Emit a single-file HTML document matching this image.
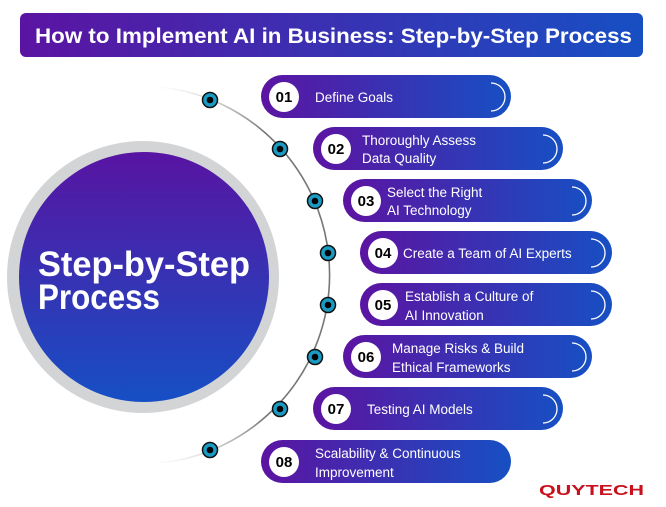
<!DOCTYPE html>
<html><head><meta charset="utf-8"><style>body{margin:0;background:#fff}svg{display:block}</style></head>
<body>
<svg width="666" height="507" viewBox="0 0 666 507" xmlns="http://www.w3.org/2000/svg" style="font-family:'Liberation Sans',sans-serif">
<defs>
<linearGradient id="h" x1="0" x2="1" y1="0" y2="0"><stop offset="0" stop-color="#5b14a2"/><stop offset="1" stop-color="#174fc3"/></linearGradient>
<linearGradient id="v" x1="0" x2="0" y1="0" y2="1"><stop offset="0" stop-color="#5814a2"/><stop offset="1" stop-color="#164fc4"/></linearGradient>
<linearGradient id="arc" x1="139" y1="86" x2="139" y2="464" gradientUnits="userSpaceOnUse"><stop offset="0" stop-color="#777" stop-opacity="0"/><stop offset="0.12" stop-color="#777"/><stop offset="0.88" stop-color="#777"/><stop offset="1" stop-color="#777" stop-opacity="0"/></linearGradient>
</defs>
<rect x="20" y="13" width="623" height="44" rx="6" fill="url(#h)"/>
<text x="35" y="43" font-size="21" font-weight="bold" fill="#fff" textLength="597" lengthAdjust="spacingAndGlyphs">How to Implement AI in Business: Step-by-Step Process</text>

<circle cx="143" cy="277" r="136" fill="#d3d4d6"/>
<circle cx="144" cy="277" r="125" fill="url(#v)"/>
<text x="38" y="276" font-size="35" font-weight="bold" fill="#fff" textLength="212" lengthAdjust="spacingAndGlyphs">Step-by-Step</text>
<text x="38" y="309" font-size="35" font-weight="bold" fill="#fff" textLength="122" lengthAdjust="spacingAndGlyphs">Process</text>

<path d="M 160 87 A 189 189 0 0 1 160 463" fill="none" stroke="url(#arc)" stroke-width="1.6"/>

<g fill="#fff" font-size="13.5">
<g>
<rect x="261" y="75" width="250" height="43" rx="21.5" fill="url(#h)"/><circle cx="284" cy="97" r="15"/><path d="M491 83 a14 14 0 0 1 0 28" fill="none" stroke="#fff" stroke-width="1.3"/>
<text x="284" y="102" text-anchor="middle" fill="#000" font-weight="bold" font-size="15">01</text><text x="315" y="102">Define Goals</text></g>
<g>
<rect x="313" y="127" width="250" height="43" rx="21.5" fill="url(#h)"/><circle cx="336" cy="149" r="15"/><path d="M543 135 a14 14 0 0 1 0 28" fill="none" stroke="#fff" stroke-width="1.3"/>
<text x="336" y="154" text-anchor="middle" fill="#000" font-weight="bold" font-size="15">02</text><text x="362" y="145">Thoroughly Assess</text><text x="362" y="163">Data Quality</text></g>
<g>
<rect x="343" y="179" width="249" height="43" rx="21.5" fill="url(#h)"/><circle cx="366" cy="201" r="15"/><path d="M572 187 a14 14 0 0 1 0 28" fill="none" stroke="#fff" stroke-width="1.3"/>
<text x="366" y="206" text-anchor="middle" fill="#000" font-weight="bold" font-size="15">03</text><text x="387" y="197">Select the Right</text><text x="387" y="215">AI Technology</text></g>
<g>
<rect x="360" y="231" width="252" height="43" rx="21.5" fill="url(#h)"/><circle cx="383" cy="253" r="15"/><path d="M591 239 a14 14 0 0 1 0 28" fill="none" stroke="#fff" stroke-width="1.3"/>
<text x="383" y="258" text-anchor="middle" fill="#000" font-weight="bold" font-size="15">04</text><text x="403" y="258">Create a Team of AI Experts</text></g>
<g>
<rect x="360" y="283" width="252" height="43" rx="21.5" fill="url(#h)"/><circle cx="383" cy="305" r="15"/><path d="M591 291 a14 14 0 0 1 0 28" fill="none" stroke="#fff" stroke-width="1.3"/>
<text x="383" y="310" text-anchor="middle" fill="#000" font-weight="bold" font-size="15">05</text><text x="405" y="301">Establish a Culture of</text><text x="405" y="320">AI Innovation</text></g>
<g>
<rect x="343" y="335" width="249" height="43" rx="21.5" fill="url(#h)"/><circle cx="366" cy="357" r="15"/><path d="M572 343 a14 14 0 0 1 0 28" fill="none" stroke="#fff" stroke-width="1.3"/>
<text x="366" y="362" text-anchor="middle" fill="#000" font-weight="bold" font-size="15">06</text><text x="392" y="353">Manage Risks &amp; Build</text><text x="392" y="372">Ethical Frameworks</text></g>
<g>
<rect x="313" y="387" width="250" height="43" rx="21.5" fill="url(#h)"/><circle cx="336" cy="409" r="15"/><path d="M543 395 a14 14 0 0 1 0 28" fill="none" stroke="#fff" stroke-width="1.3"/>
<text x="336" y="414" text-anchor="middle" fill="#000" font-weight="bold" font-size="15">07</text><text x="367" y="414">Testing AI Models</text></g>
<g>
<rect x="261" y="440" width="250" height="43" rx="21.5" fill="url(#h)"/><circle cx="284" cy="462" r="15"/>
<text x="284" y="467" text-anchor="middle" fill="#000" font-weight="bold" font-size="15">08</text><text x="315" y="458">Scalability &amp; Continuous</text><text x="315" y="477">Improvement</text></g>
</g>

<g fill="#1a9bc4" stroke="#111" stroke-width="1.5">
<circle cx="210" cy="100" r="7.5"/><circle cx="280" cy="149" r="7.5"/><circle cx="315" cy="201" r="7.5"/><circle cx="328" cy="253" r="7.5"/>
<circle cx="328" cy="305" r="7.5"/><circle cx="315" cy="357" r="7.5"/><circle cx="280" cy="409" r="7.5"/><circle cx="210" cy="450" r="7.5"/>
</g>
<g fill="#000">
<circle cx="210" cy="100" r="3.3"/><circle cx="280" cy="149" r="3.3"/><circle cx="315" cy="201" r="3.3"/><circle cx="328" cy="253" r="3.3"/>
<circle cx="328" cy="305" r="3.3"/><circle cx="315" cy="357" r="3.3"/><circle cx="280" cy="409" r="3.3"/><circle cx="210" cy="450" r="3.3"/>
</g>

<text x="539" y="495" font-size="15" font-weight="bold" fill="#c8101e" textLength="105" lengthAdjust="spacingAndGlyphs">QUYTECH</text>
</svg>
</body></html>
